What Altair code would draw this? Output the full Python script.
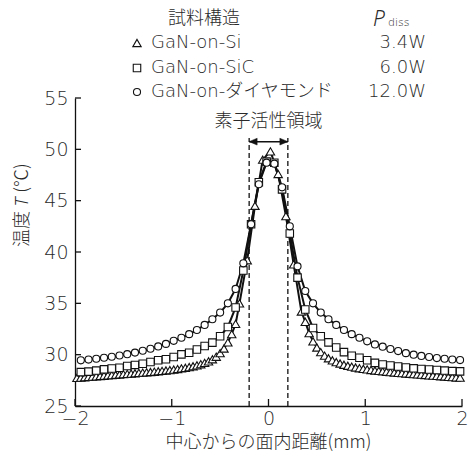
import altair as alt
import pandas as pd

# ---------------- data ----------------
series_names = ["GaN-on-Si", "GaN-on-SiC", "GaN-on-ダイヤモンド"]
powers = ["3.4W", "6.0W", "12.0W"]
shapes = ["triangle-up", "square", "circle"]

# SiC and diamond samples
x_grid = [-1.94, -1.86, -1.78, -1.70, -1.62, -1.54, -1.46, -1.38, -1.30, -1.22,
          -1.14, -1.06, -0.98, -0.90, -0.82, -0.74, -0.66, -0.58, -0.50, -0.42,
          -0.34, -0.26, -0.18, -0.10, -0.02, 0.06, 0.14, 0.22, 0.30, 0.38,
          0.46, 0.54, 0.62, 0.70, 0.78, 0.86, 0.94, 1.02, 1.10, 1.18,
          1.26, 1.34, 1.42, 1.50, 1.58, 1.66, 1.74, 1.82, 1.90, 1.98]
T_diamond = [29.45, 29.52, 29.60, 29.70, 29.80, 29.92, 30.05, 30.20, 30.38, 30.58,
             30.80, 31.05, 31.35, 31.65, 32.00, 32.40, 32.90, 33.45, 34.10, 35.00,
             36.40, 38.90, 42.70, 46.60, 48.70,
             48.60, 46.30, 42.50, 38.60, 36.20, 35.00, 34.10, 33.45, 32.90, 32.40,
             32.00, 31.65, 31.30, 31.00, 30.78, 30.55, 30.35, 30.15, 30.00, 29.88,
             29.77, 29.67, 29.60, 29.53, 29.47]
T_sic = [28.30, 28.35, 28.45, 28.57, 28.65, 28.73, 28.90, 29.00, 29.12, 29.28,
         29.45, 29.55, 29.77, 30.03, 30.19, 30.50, 30.84, 31.17, 31.80, 32.70,
         34.60, 38.20, 42.70, 46.80, 48.80,
         48.70, 46.10, 41.80, 37.50, 34.40, 32.60, 31.80, 31.20, 30.70, 30.25,
         29.90, 29.70, 29.45, 29.20, 29.05, 28.95, 28.85, 28.75, 28.67, 28.60,
         28.55, 28.50, 28.45, 28.40, 28.37]

# Si samples (dense in the tails)
x_si = [-1.98, -1.94, -1.90, -1.86, -1.82, -1.78, -1.74, -1.70, -1.66, -1.62,
        -1.58, -1.54, -1.50, -1.46, -1.42, -1.38, -1.34, -1.30, -1.26, -1.22,
        -1.18, -1.14, -1.10, -1.06, -1.02, -0.98, -0.94, -0.90, -0.86, -0.82,
        -0.78, -0.74, -0.70, -0.66, -0.62, -0.58, -0.54, -0.50, -0.46, -0.42,
        -0.38, -0.34,
        -0.30, -0.22, -0.14, -0.06, 0.02, 0.10, 0.18, 0.26, 0.34,
        0.38, 0.42, 0.46, 0.50, 0.54, 0.58, 0.62, 0.66, 0.70, 0.74,
        0.78, 0.82, 0.86, 0.90, 0.94, 0.98, 1.02, 1.06, 1.10, 1.14,
        1.18, 1.22, 1.26, 1.30, 1.34, 1.38, 1.42, 1.46, 1.50, 1.54,
        1.58, 1.62, 1.66, 1.70, 1.74, 1.78, 1.82, 1.86, 1.90, 1.94, 1.98]
T_si = [27.74, 27.77, 27.80, 27.83, 27.86, 27.89, 27.92, 27.95, 27.98, 28.01,
        28.04, 28.07, 28.10, 28.13, 28.16, 28.19, 28.22, 28.25, 28.28, 28.31,
        28.34, 28.38, 28.42, 28.46, 28.50, 28.55, 28.60, 28.66, 28.72, 28.79,
        28.87, 28.96, 29.07, 29.20, 29.35, 29.55, 29.80, 30.15, 30.60, 31.20,
        32.00, 33.00,
        35.00, 39.20, 44.50, 49.00, 49.80, 47.60, 43.50, 38.80, 34.20,
        33.20, 32.10, 31.30, 30.70, 30.25, 29.90, 29.65, 29.45, 29.28, 29.14,
        29.02, 28.92, 28.83, 28.75, 28.68, 28.62, 28.56, 28.51, 28.46, 28.42,
        28.38, 28.34, 28.30, 28.26, 28.23, 28.20, 28.17, 28.14, 28.11, 28.08,
        28.05, 28.02, 27.99, 27.96, 27.93, 27.90, 27.87, 27.84, 27.81, 27.78, 27.76]

x_ticks = [-2, -1, 0, 1, 2]
y_ticks = [25, 30, 35, 40, 45, 50, 55]
active_region = [-0.2, 0.2]
annotation_text = "素子活性領域"
arrow_T = 50.75
dash_top_T = 51.1
label_T = 52.7
x_title = "中心からの面内距離(mm)"
legend_title = "試料構造"

assert len(x_grid) == len(T_diamond) == len(T_sic)
assert len(x_si) == len(T_si)

# ---------------- styling ----------------
W, H = 387, 308
LAT = "DejaVu Sans, Noto Sans CJK JP"
JP = "Noto Sans CJK JP"
ITAL = "Noto Sans"
INK = "#111111"
TXT = "#2a2a2a"
FW = 300

xs = alt.Scale(domain=[x_ticks[0], x_ticks[-1]], nice=False, zero=False)
ys = alt.Scale(domain=[y_ticks[0], y_ticks[-1]], nice=False, zero=False)
x_axis = alt.Axis(values=x_ticks, ticks=False, grid=False, domain=True,
                  domainColor=INK, domainWidth=1.3, labelFont=LAT, labelFontWeight=FW,
                  labelFontSize=19, labelColor=TXT, labelPadding=3,
                  labelFlush=False, title=None)
y_axis = alt.Axis(values=y_ticks, ticks=False, grid=False, domain=True,
                  domainColor=INK, domainWidth=1.3, labelFont=LAT, labelFontWeight=FW,
                  labelFontSize=19, labelColor=TXT, labelPadding=7,
                  labelFlush=False, title=None)


def X(f):
    return alt.X(f, type="quantitative", scale=xs, axis=x_axis)


def Y(f):
    return alt.Y(f, type="quantitative", scale=ys, axis=y_axis)


df_si = pd.DataFrame({"x": x_si, "T": T_si})
df_sic = pd.DataFrame({"x": x_grid, "T": T_sic})
df_dia = pd.DataFrame({"x": x_grid, "T": T_diamond})

layers = []

# axis ticks pointing inward
layers.append(alt.Chart(pd.DataFrame({"v": x_ticks})).mark_rule(
    color=INK, strokeWidth=1.3).encode(x=X("v"), y=alt.value(H), y2=alt.value(H - 7)))
layers.append(alt.Chart(pd.DataFrame({"v": y_ticks})).mark_rule(
    color=INK, strokeWidth=1.3).encode(y=Y("v"), x=alt.value(0), x2=alt.value(6)))

# dashed lines of the active region
df_region = pd.DataFrame({"x": active_region, "y0": [y_ticks[0]] * 2, "y1": [dash_top_T] * 2})
layers.append(alt.Chart(df_region).mark_rule(
    color=INK, strokeWidth=1.3, strokeDash=[5, 3]).encode(x=X("x"), y=Y("y0"), y2=alt.Y2("y1")))

# lines
for d in (df_si, df_sic, df_dia):
    layers.append(alt.Chart(d).mark_line(color=INK, strokeWidth=2).encode(x=X("x"), y=Y("T")))

# markers
sizes = [70, 56, 50]
for d, shp, sz in zip((df_si, df_sic, df_dia), shapes, sizes):
    layers.append(alt.Chart(d).mark_point(
        shape=shp, size=sz, filled=True, fill="white", stroke=INK,
        strokeWidth=1.1, opacity=1).encode(x=X("x"), y=Y("T")))

# double arrow
df_arrow = pd.DataFrame({"x": [active_region[0]], "x2": [active_region[1]], "T": [arrow_T]})
layers.append(alt.Chart(df_arrow).mark_rule(color=INK, strokeWidth=1.5).encode(
    x=X("x"), x2=alt.X2("x2"), y=Y("T")))
df_heads = pd.DataFrame({"x": active_region, "T": [arrow_T] * 2, "dir": ["L", "R"]})
layers.append(alt.Chart(df_heads).mark_point(
    filled=True, fill=INK, stroke=INK, strokeWidth=0.5, size=64, opacity=1).encode(
    x=X("x"), y=Y("T"),
    shape=alt.Shape("dir:N", scale=alt.Scale(domain=["L", "R"],
                    range=["M0,0L2,-0.85L2,0.85Z", "M0,0L-2,-0.85L-2,0.85Z"]), legend=None)))

# annotation label
layers.append(alt.Chart(pd.DataFrame({"t": [annotation_text], "x": [0.0], "T": [label_T]})).mark_text(
    font=JP, fontSize=18, fontWeight=FW, color=TXT, align="center", baseline="middle").encode(
    x=X("x"), y=Y("T"), text="t:N"))

# axis titles
layers.append(alt.Chart(pd.DataFrame({"t": [x_title]})).mark_text(
    font=JP, fontSize=18, fontWeight=FW, color=TXT, align="center", baseline="middle").encode(
    x=alt.value(W / 2), y=alt.value(H + 37), text="t:N"))
ytitle_parts = [("温度", JP, "normal", 131), ("T", ITAL, "italic", 104), ("(℃)", JP, "normal", 80)]
for txt, fnt, sty, yy in ytitle_parts:
    layers.append(alt.Chart(pd.DataFrame({"t": [txt]})).mark_text(
        font=fnt, fontStyle=sty, fontSize=18, fontWeight=FW, color=TXT, angle=270,
        align="center", baseline="middle").encode(
        x=alt.value(-52), y=alt.value(yy), text="t:N"))

# legend block
layers.append(alt.Chart(pd.DataFrame({"t": [legend_title]})).mark_text(
    font=JP, fontSize=18, fontWeight=FW, color=TXT, align="center", baseline="middle").encode(
    x=alt.value(129), y=alt.value(-79), text="t:N"))
layers.append(alt.Chart(pd.DataFrame({"t": ["P"]})).mark_text(
    font=ITAL, fontStyle="italic", fontSize=21, fontWeight=FW, color=TXT,
    align="left", baseline="middle").encode(x=alt.value(298), y=alt.value(-78), text="t:N"))
layers.append(alt.Chart(pd.DataFrame({"t": ["diss"]})).mark_text(
    font="DejaVu Sans", fontSize=11, fontWeight=FW, color=TXT,
    align="left", baseline="middle").encode(x=alt.value(313), y=alt.value(-75), text="t:N"))

legend_y = [-55, -30, -6]
legend_sizes = [70, 56, 50]
for i in range(3):
    row = pd.DataFrame({"name": [series_names[i]], "p": [powers[i]]})
    layers.append(alt.Chart(row).mark_point(
        shape=shapes[i], size=legend_sizes[i], filled=True, fill="white", stroke=INK,
        strokeWidth=1.1, opacity=1).encode(x=alt.value(62), y=alt.value(legend_y[i])))
    layers.append(alt.Chart(row).mark_text(
        font=LAT, fontSize=18, fontWeight=FW, color=TXT, align="left", baseline="middle").encode(
        x=alt.value(76), y=alt.value(legend_y[i]), text="name:N"))
    layers.append(alt.Chart(row).mark_text(
        font=LAT, fontSize=18, fontWeight=FW, color=TXT, align="right", baseline="middle").encode(
        x=alt.value(351), y=alt.value(legend_y[i]), text="p:N"))

chart = alt.layer(*layers).properties(
    width=W, height=H,
    padding={"left": 75, "top": 98, "right": 6, "bottom": 53},
    autosize=alt.AutoSizeParams(type="none"),
    background="white",
).configure_view(stroke=None)

chart.save("out.html", embed_options={"renderer": "svg", "actions": False})
